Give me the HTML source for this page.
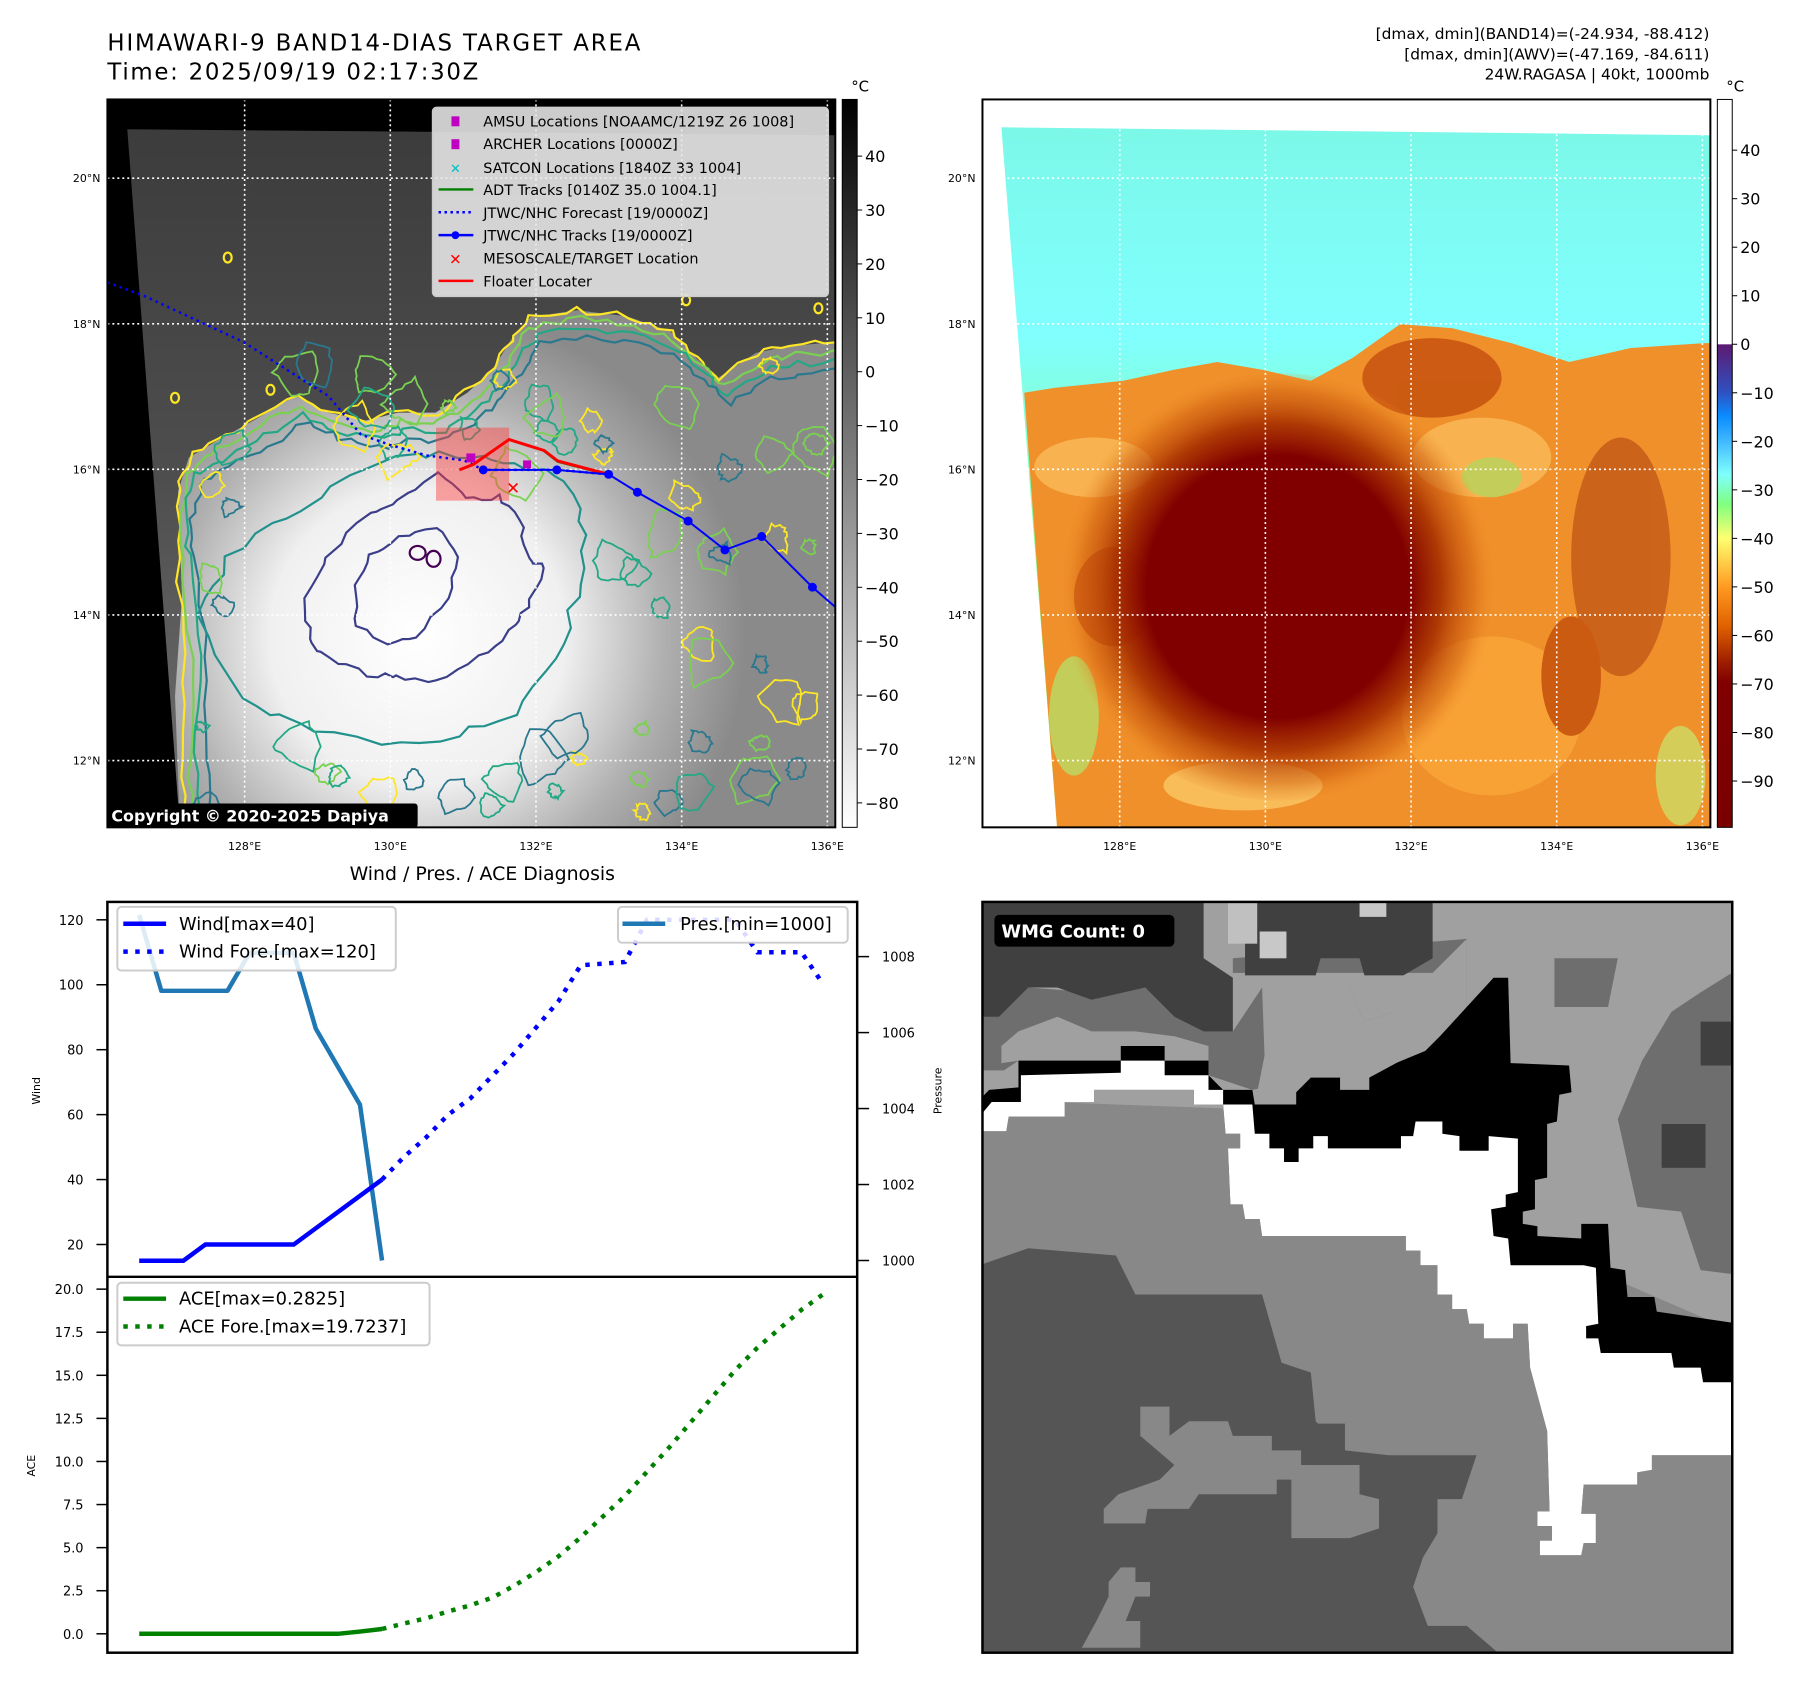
<!DOCTYPE html>
<html><head><meta charset="utf-8"><style>
html,body{margin:0;padding:0;background:#fff}
svg{display:block}
text{font-family:"DejaVu Sans","Liberation Sans",sans-serif}
</style></head><body>
<svg id="root" width="1801" height="1690" viewBox="0 0 1801 1690" xmlns="http://www.w3.org/2000/svg">
<defs>
 <linearGradient id="gcb1" x1="0" y1="0" x2="0" y2="1"><stop offset="0" stop-color="#000"/><stop offset="1" stop-color="#fff"/></linearGradient>
 <linearGradient id="gcb2" x1="0" y1="0" x2="0" y2="1">
  <stop offset="0" stop-color="#fff"/><stop offset="0.336" stop-color="#fff"/><stop offset="0.337" stop-color="#5c1a72"/>
  <stop offset="0.402" stop-color="#3050c0"/><stop offset="0.435" stop-color="#0a8cff"/><stop offset="0.469" stop-color="#40b8ff"/>
  <stop offset="0.515" stop-color="#80ffff"/><stop offset="0.556" stop-color="#80ff80"/><stop offset="0.603" stop-color="#ffff70"/>
  <stop offset="0.67" stop-color="#ff9a20"/><stop offset="0.724" stop-color="#e06000"/><stop offset="0.771" stop-color="#a02000"/>
  <stop offset="0.80" stop-color="#800000"/><stop offset="1" stop-color="#7a0000"/></linearGradient>
 <linearGradient id="gsky1" x1="0" y1="0" x2="0" y2="1"><stop offset="0" stop-color="#3c3c3c"/><stop offset="0.5" stop-color="#4e4e4e"/><stop offset="1" stop-color="#707070"/></linearGradient>
 <radialGradient id="gcore1" cx="420" cy="640" r="330" gradientUnits="userSpaceOnUse"><stop offset="0" stop-color="#ffffff"/><stop offset="0.45" stop-color="#f0f0f0"/><stop offset="0.75" stop-color="#b0b0b0"/><stop offset="1" stop-color="#8a8a8a"/></radialGradient>
 <linearGradient id="gsky2" x1="0" y1="0" x2="0" y2="1"><stop offset="0" stop-color="#7cf8e8"/><stop offset="0.3" stop-color="#80ffff"/><stop offset="0.52" stop-color="#86ffb0"/><stop offset="0.7" stop-color="#90ff80"/><stop offset="1" stop-color="#a0ff80"/></linearGradient>
 <radialGradient id="gcore2" cx="1285" cy="590" r="220" gradientUnits="userSpaceOnUse"><stop offset="0" stop-color="#800000"/><stop offset="0.6" stop-color="#800000"/><stop offset="0.75" stop-color="#a83000" stop-opacity="0.9"/><stop offset="0.9" stop-color="#d06010" stop-opacity="0.5"/><stop offset="1" stop-color="#f0902a" stop-opacity="0"/></radialGradient>
 <clipPath id="clipMap1"><rect x="108" y="100" width="732" height="732"/></clipPath>
 <clipPath id="clipMap2"><rect x="988" y="100" width="732" height="732"/></clipPath>
 <clipPath id="clipTop"><rect x="108" y="907" width="754" height="377"/></clipPath>
 <clipPath id="clipAce"><rect x="108" y="1284" width="754" height="378"/></clipPath>
 <clipPath id="clipWmg"><rect x="988" y="907" width="754" height="755"/></clipPath>
</defs>
<g transform="scale(0.9944)">
<!-- Titles -->
<text x="108" y="51" font-size="23" textLength="536">HIMAWARI-9 BAND14-DIAS TARGET AREA</text>
<text x="108" y="80" font-size="23" textLength="373">Time: 2025/09/19 02:17:30Z</text>
<g font-size="15.5" text-anchor="end">
 <text x="1719" y="39">[dmax, dmin](BAND14)=(-24.934, -88.412)</text>
 <text x="1719" y="60">[dmax, dmin](AWV)=(-47.169, -84.611)</text>
 <text x="1719" y="80">24W.RAGASA | 40kt, 1000mb</text>
</g>

<!-- MAP 1 -->
<g clip-path="url(#clipMap1)">
 <rect x="108" y="100" width="732" height="732" fill="#000"/>
 <polygon points="128,130 840,136 840,832 181,832" fill="url(#gsky1)"/>
 <path id="cloud1" d="M179,494 L190,460 L217,444 L260,420 L297,398 L330,415 L368,423 L400,415 L438,415 L470,395 L495,372 L515,340 L533,319 L580,312 L630,318 L674,333 L700,360 L722,380 L760,355 L793,348 L843,344 L843,832 L181,832 L176,700 L183,600 Z" fill="url(#gcore1)"/>
 <g id="contours1" fill="none" stroke-width="2.2"></g>
 <g stroke="#fff" stroke-width="1.6" stroke-dasharray="2 3" fill="none" id="grid1"></g>
 <rect x="438.5" y="430" width="73.5" height="73.5" fill="rgba(255,60,60,0.45)"/>
 <polyline points="108,284 146,298 245,344 306,383 330,398 363,437 391,447 429,458 467,463 486,472.5 560,472.5 612,477" fill="none" stroke="#0000ff" stroke-width="2.5" stroke-dasharray="2.5 4"/>
 <polyline points="547,453 561,464 608,476" fill="none" stroke="#008000" stroke-width="3"/>
 <polyline points="462,472.5 476,467 512,442 547,453 561,463.6 608,476" fill="none" stroke="#ff0000" stroke-width="3"/>
 <g>
  <polyline points="486,472.5 560,472.5 612,477 641,495 692,524 729,553 766,539.5 817,590.5 843,613" fill="none" stroke="#0000ff" stroke-width="2"/>
  <g fill="#0000ff"><circle cx="486" cy="472.5" r="4.5"/><circle cx="560" cy="472.5" r="4.5"/><circle cx="612" cy="477" r="4.5"/><circle cx="641" cy="495" r="4.5"/><circle cx="692" cy="524" r="4.5"/><circle cx="729" cy="553" r="4.5"/><circle cx="766" cy="539.5" r="4.5"/><circle cx="817" cy="590.5" r="4.5"/></g>
 </g>
 <rect x="469" y="456" width="9" height="9" fill="#c000c0"/>
 <rect x="526" y="463" width="8" height="8" fill="#c000c0"/>
 <text x="516" y="497" font-size="17" font-weight="bold" fill="#ff0000" text-anchor="middle">✕</text>
 <g>
  <rect x="435" y="108" width="398" height="190" rx="4" fill="rgba(232,232,232,0.88)" stroke="#ccc" stroke-width="1.5"/>
  <g font-size="14.5">
   <rect x="454" y="117" width="8" height="10" fill="#c000c0"/><text x="486" y="127">AMSU Locations [NOAAMC/1219Z 26 1008]</text>
   <rect x="454" y="140" width="8" height="10" fill="#c000c0"/><text x="486" y="150">ARCHER Locations [0000Z]</text>
   <text x="458" y="174" fill="#00c0c0" font-size="13" font-weight="bold" text-anchor="middle">✕</text><text x="486" y="174">SATCON Locations [1840Z 33 1004]</text>
   <line x1="441" y1="190.5" x2="476" y2="190.5" stroke="#008000" stroke-width="2.5"/><text x="486" y="196">ADT Tracks [0140Z 35.0 1004.1]</text>
   <line x1="441" y1="213.5" x2="476" y2="213.5" stroke="#0000ff" stroke-width="2.5" stroke-dasharray="2.5 3.5"/><text x="486" y="219">JTWC/NHC Forecast [19/0000Z]</text>
   <line x1="441" y1="236.5" x2="476" y2="236.5" stroke="#0000ff" stroke-width="2.5"/><circle cx="458" cy="236.5" r="4" fill="#0000ff"/><text x="486" y="242">JTWC/NHC Tracks [19/0000Z]</text>
   <text x="458" y="266" fill="#ff0000" font-size="15" font-weight="bold" text-anchor="middle">✕</text><text x="486" y="265">MESOSCALE/TARGET Location</text>
   <line x1="441" y1="282.5" x2="476" y2="282.5" stroke="#ff0000" stroke-width="2.5"/><text x="486" y="288">Floater Locater</text>
  </g>
 </g>
 <rect x="108" y="808" width="312" height="24" rx="3" fill="#000"/>
 <text x="112" y="826" font-size="16" font-weight="bold" fill="#fff">Copyright © 2020-2025 Dapiya</text>
</g>
<rect x="108" y="100" width="732" height="732" fill="none" stroke="#000" stroke-width="2"/>
<g id="labels1" font-size="11"></g>

<rect x="847" y="100" width="15" height="732" fill="url(#gcb1)" stroke="#000" stroke-width="1"/>
<text x="856" y="92" font-size="15">°C</text>
<g id="cb1ticks" font-size="16"></g>

<!-- MAP 2 -->
<g clip-path="url(#clipMap2)">
 <rect x="988" y="100" width="732" height="732" fill="#fff"/>
 <polygon points="1007,128 1720,136 1720,832 1063,832" fill="url(#gsky2)"/>
 <path d="M1030,395 L1060,390 L1129,383 L1180,372 L1224,364 L1270,372 L1318,383 L1360,360 L1408,326 L1460,330 L1520,345 L1578,364 L1640,350 L1714,345 L1720,345 L1720,832 L1063,832 L1045,600 Z" fill="#f0902a"/>
 <g opacity="0.55">
  <ellipse cx="1100" cy="470" rx="60" ry="30" fill="#ffd070"/>
  <ellipse cx="1490" cy="460" rx="70" ry="40" fill="#ffd070"/>
  <ellipse cx="1080" cy="720" rx="25" ry="60" fill="#a0ff80"/>
  <ellipse cx="1250" cy="790" rx="80" ry="25" fill="#ffe080"/>
  <ellipse cx="1630" cy="560" rx="50" ry="120" fill="#b04010"/>
  <ellipse cx="1500" cy="720" rx="90" ry="80" fill="#ffb040"/>
  <ellipse cx="1440" cy="380" rx="70" ry="40" fill="#b03000"/>
  <ellipse cx="1500" cy="480" rx="30" ry="20" fill="#a0ff80"/>
  <ellipse cx="1690" cy="780" rx="25" ry="50" fill="#c0ff80"/>
  <ellipse cx="1120" cy="600" rx="40" ry="50" fill="#b03000"/>
  <ellipse cx="1580" cy="680" rx="30" ry="60" fill="#b03000"/>
 </g>
 <ellipse cx="1285" cy="590" rx="220" ry="215" fill="url(#gcore2)"/>
 <ellipse cx="1282" cy="590" rx="125" ry="118" fill="#800000"/>
 <ellipse cx="1315" cy="495" rx="38" ry="28" fill="#800000"/>
 <g id="grid2" stroke="#fff" stroke-width="1.6" stroke-dasharray="2 3" fill="none"></g>
</g>
<rect x="988" y="100" width="732" height="732" fill="none" stroke="#000" stroke-width="2"/>
<g id="labels2" font-size="11"></g>
<rect x="1727" y="100" width="15" height="732" fill="url(#gcb2)" stroke="#000" stroke-width="1"/>
<text x="1736" y="92" font-size="15">°C</text>
<g id="cb2ticks" font-size="16"></g>

<!-- Wind/Pres/ACE -->
<text x="485" y="885" font-size="19" text-anchor="middle">Wind / Pres. / ACE Diagnosis</text>
<g id="windChart"></g>
<g id="aceChart"></g>
<rect x="108" y="907" width="754" height="755" fill="none" stroke="#000" stroke-width="2.5"/>
<line x1="108" y1="1284" x2="862" y2="1284" stroke="#000" stroke-width="2.5"/>
<text transform="translate(40,1097) rotate(-90)" font-size="11" text-anchor="middle">Wind</text>
<text transform="translate(947,1097) rotate(-90)" font-size="11" text-anchor="middle">Pressure</text>
<text transform="translate(35,1474) rotate(-90)" font-size="11" text-anchor="middle">ACE</text>

<!-- WMG -->
<g clip-path="url(#clipWmg)">
 <rect x="988" y="907" width="754" height="755" fill="#888"/>
 <g transform="translate(985,900) scale(0.49)">
  <polygon fill="#a0a0a0" points="0,0 1560,0 1560,900 1100,700 560,440 0,420"/>
  <polygon fill="#6e6e6e" points="0,240 100,190 230,200 340,190 400,250 520,280 580,190 760,190 790,260 850,240 900,220 940,160 520,160 520,130 1000,90 1000,230 940,290 850,345 740,375 680,375 560,400 470,370 470,340 380,310 290,310 80,340 50,360 0,360"/>
  <polygon fill="#a0a0a0" points="45,310 80,280 160,250 230,280 320,280 400,290 470,310 470,340 380,340 380,310 290,310 290,340 80,340 45,345"/>
  <polygon fill="#a0a0a0" points="580,190 760,190 790,260 850,240 930,160 1000,90 1000,230 945,290 855,345 800,375 740,375 680,375 650,405 565,430 585,330"/>
  <polygon fill="#404040" points="0,0 460,0 460,130 520,170 520,280 460,280 400,250 340,190 230,215 160,190 100,190 40,250 0,250"/>
  <polygon fill="#404040" points="545,10 930,10 930,130 870,165 790,165 780,130 700,130 690,165 545,165"/>
  <rect x="510" y="10" width="60" height="90" fill="#c0c0c0"/><rect x="575" y="75" width="55" height="55" fill="#c8c8c8"/><rect x="780" y="10" width="55" height="35" fill="#c8c8c8"/>
  <polygon fill="#6e6e6e" points="1180,130 1310,130 1290,230 1180,230"/>
  <polygon fill="#6e6e6e" points="1560,150 1480,200 1420,240 1360,340 1310,460 1350,640 1440,650 1480,770 1560,780"/>
  <rect x="1400" y="470" width="90" height="90" fill="#404040"/><rect x="1480" y="260" width="80" height="90" fill="#404040"/>
  <polygon fill="#555" points="0,760 100,725 280,740 320,820 580,820 620,960 680,980 690,1080 750,1140 840,1150 1020,1150 990,1240 940,1240 940,1310 910,1360 890,1420 920,1500 1000,1500 1070,1560 0,1560"/>
  <polygon fill="#888" points="330,1050 390,1050 390,1110 430,1080 510,1080 520,1110 600,1110 600,1140 660,1140 660,1200 610,1200 610,1230 450,1230 430,1260 345,1260 340,1290 255,1290 255,1260 285,1230 370,1200 400,1170 365,1140 330,1110"/>
  <polygon fill="#888" points="640,1170 780,1170 780,1230 820,1240 820,1300 760,1320 640,1320"/>
  <polygon fill="#888" points="290,1380 320,1380 320,1410 350,1410 350,1440 320,1440 300,1490 330,1490 330,1545 210,1545 240,1490 265,1440 265,1410"/>
  <rect x="690" y="1085" width="60" height="85" fill="#555"/>
  <polygon fill="#000" points="0,420 20,400 80,395 80,340 290,340 290,310 380,310 380,340 470,340 470,370 500,400 560,400 565,430 650,430 650,405 680,375 740,375 740,400 800,400 800,375 855,345 915,320 945,290 1000,230 1055,170 1085,170 1090,345 1210,350 1215,405 1190,410 1185,465 1165,470 1165,580 1140,585 1140,645 1115,650 1115,675 1145,680 1145,700 1235,705 1235,675 1290,675 1295,765 1325,770 1330,825 1385,825 1390,855 1560,880 1560,1150 1380,1150 1380,1180 1350,1185 1350,1210 1240,1210 1235,1270 1265,1270 1265,1330 1240,1330 1235,1355 1150,1355 1150,1325 1175,1325 1175,1295 1145,1295 1145,1265 1170,1265 1165,1100 1130,970 1125,880 1095,880 1095,910 1035,910 1035,880 1005,880 1000,850 970,850 970,820 940,820 940,760 905,760 905,730 875,730 875,700 580,700 575,665 545,665 540,635 515,635 510,520 535,520 535,490 505,490 500,430 440,430 440,400 235,400 235,425 175,425 175,455 60,455 55,485 0,485"/>
  <polygon fill="#fff" points="0,455 25,425 85,425 85,370 290,365 290,340 380,340 380,370 470,370 470,400 500,400 500,430 560,430 565,490 595,490 595,520 625,520 625,548 655,548 655,520 685,520 685,495 715,495 715,520 865,520 865,495 890,495 895,465 950,465 950,490 985,495 985,525 1045,525 1045,495 1105,500 1105,610 1080,615 1080,640 1050,645 1055,700 1085,705 1090,760 1240,760 1265,765 1270,880 1245,885 1245,910 1270,910 1275,940 1420,940 1425,970 1480,970 1485,1000 1560,1000 1560,1150 1380,1150 1380,1180 1350,1185 1350,1210 1240,1210 1235,1270 1265,1270 1265,1330 1240,1330 1235,1355 1150,1355 1150,1325 1175,1325 1175,1295 1145,1295 1145,1265 1170,1265 1165,1100 1130,970 1125,880 1095,880 1095,910 1035,910 1035,880 1005,880 1000,850 970,850 970,820 940,820 940,760 905,760 905,730 875,730 875,700 580,700 575,665 545,665 540,635 515,635 510,520 535,520 535,490 505,490 500,430 440,430 440,400 235,400 235,425 175,425 175,455 60,455 55,485 0,485"/>
 </g>
 <rect x="1000" y="920" width="181" height="32" rx="5" fill="#000"/>
 <text x="1007" y="943" font-size="18" font-weight="bold" fill="#fff">WMG Count: 0</text>
</g>
<rect x="988" y="907" width="754" height="755" fill="none" stroke="#000" stroke-width="2.5"/>
</g>
</svg>

<script>
// ---------- chart data ----------
const obsIdx = [0,1,2,3,4,5,6,7,8,9,10,11];
const windObs = [15,15,15,20,20,20,20,20,25,30,35,40];
const presObs = [1009.1,1007.1,1007.1,1007.1,1007.1,1008.1,1008.1,1008.1,1006.1,1005.1,1004.1,1000];
const aceObs = [0,0,0,0,0,0,0,0,0,0,0.13,0.28];
const windFcIdx = [11,12,13,14,15,16,17,18,19,20,22,23,27,28,30,31];
const windFc = [40,47,53,60,65,72,79,87,95,106,107,120,120,110,110,100];
const aceFcIdx = [11,12,13,14,15,16,17,18,19,20,21,22,23,24,25,26,27,28,29,30,31];
const aceFc = [0.28,0.6,0.9,1.3,1.65,2.1,2.8,3.6,4.5,5.6,6.8,8.0,9.4,10.8,12.3,13.8,15.3,16.6,17.7,18.8,19.72];
const windTicks = [20,40,60,80,100,120];
const presTicks = [1000,1002,1004,1006,1008];
const aceTicks = [0,2.5,5,7.5,10,12.5,15,17.5,20];
const cb1Ticks = [40,30,20,10,0,-10,-20,-30,-40,-50,-60,-70,-80];
const cb2Ticks = [40,30,20,10,0,-10,-20,-30,-40,-50,-60,-70,-80,-90];
const lonTicks = [128,130,132,134,136];
const latTicks = [20,18,16,14,12];

const NS = 'http://www.w3.org/2000/svg';
function mk(tag, attrs, parent){const e=document.createElementNS(NS,tag);for(const k in attrs)e.setAttribute(k,attrs[k]);if(parent)parent.appendChild(e);return e;}
const minus = s => String(s).replace('-', '\u2212');

const wx = i => 140 + i*22.2;
const wy = v => 1251.5 - (v-20)*3.265;
const py = p => 1267.6 - (p-1000)*38.2;
const ay = a => 1643 - a*17.33;
const lonX = (lon, off) => 392.5 + (lon-130)*73.25 + off;
const latY = lat => 472 - (lat-16)*73.2;
const cb1Y = v => 157 + (40-v)*5.42;
const cb2Y = v => 151 + (40-v)*4.88;

const wc = document.getElementById('windChart');
const wclip = mk('g',{'clip-path':'url(#clipTop)'},wc);
function pts(xs, ys, fx, fy){return xs.map((x,i)=>fx(x)+','+fy(ys[i])).join(' ');}
let el;
el = mk('polyline',{points:pts(obsIdx,presObs,wx,py),fill:'none',stroke:'#1f77b4','stroke-width':4.5,'stroke-linejoin':'round'},wclip);


el = mk('polyline',{points:pts(obsIdx,windObs,wx,wy),fill:'none',stroke:'#0000ff','stroke-width':4.5},wclip);


el = mk('polyline',{points:pts(windFcIdx,windFc,wx,wy),fill:'none',stroke:'#0000ff','stroke-width':4.5,'stroke-dasharray':'4.5 7.5'},wclip);


windTicks.forEach(v=>{
  mk('line',{x1:97,x2:108,y1:wy(v),y2:wy(v),stroke:'#000','stroke-width':1.5},wc);
  const t = mk('text',{x:84,y:wy(v)+5,'font-size':13,'text-anchor':'end'},wc); t.textContent=v;
  
  
});
presTicks.forEach(v=>{
  mk('line',{x1:862,x2:874,y1:py(v),y2:py(v),stroke:'#000','stroke-width':1.5},wc);
  const t = mk('text',{x:887,y:py(v)+5,'font-size':13},wc); t.textContent=v;
  
  
});
function legendBox(parent,x,y,w,h){mk('rect',{x:x,y:y,width:w,height:h,rx:4,fill:'rgba(255,255,255,0.85)',stroke:'#ccc','stroke-width':2},parent);}
let lg = mk('g',{},wc);


legendBox(lg,118,912,280,64);
mk('line',{x1:124,x2:167,y1:929,y2:929,stroke:'#0000ff','stroke-width':4.5},lg);
mk('line',{x1:124,x2:167,y1:957,y2:957,stroke:'#0000ff','stroke-width':4.5,'stroke-dasharray':'4.5 7.5'},lg);
el=mk('text',{x:180,y:935,'font-size':18},lg); el.textContent='Wind[max=40]';
el=mk('text',{x:180,y:963,'font-size':18},lg); el.textContent='Wind Fore.[max=120]';
lg = mk('g',{},wc);


legendBox(lg,621.5,912,231,36);
mk('line',{x1:626,x2:669,y1:929,y2:929,stroke:'#1f77b4','stroke-width':4.5},lg);
el=mk('text',{x:684,y:935,'font-size':18},lg); el.textContent='Pres.[min=1000]';

const ac = document.getElementById('aceChart');
const aclip = mk('g',{'clip-path':'url(#clipAce)'},ac);
el = mk('polyline',{points:pts(obsIdx,aceObs,wx,ay),fill:'none',stroke:'#008000','stroke-width':4.5},aclip);


el = mk('polyline',{points:pts(aceFcIdx,aceFc,wx,ay),fill:'none',stroke:'#008000','stroke-width':4.5,'stroke-dasharray':'4.5 7.5'},aclip);


aceTicks.forEach(v=>{
  mk('line',{x1:97,x2:108,y1:ay(v),y2:ay(v),stroke:'#000','stroke-width':1.5},ac);
  const t = mk('text',{x:84,y:ay(v)+5,'font-size':13,'text-anchor':'end'},ac); t.textContent=v.toFixed(1);
  
  
});
lg = mk('g',{},ac);


legendBox(lg,118,1290,314,63);
mk('line',{x1:124,x2:167,y1:1306,y2:1306,stroke:'#008000','stroke-width':4.5},lg);
mk('line',{x1:124,x2:167,y1:1334,y2:1334,stroke:'#008000','stroke-width':4.5,'stroke-dasharray':'4.5 7.5'},lg);
el=mk('text',{x:180,y:1312,'font-size':18},lg); el.textContent='ACE[max=0.2825]';
el=mk('text',{x:180,y:1340,'font-size':18},lg); el.textContent='ACE Fore.[max=19.7237]';

function cbTicks(id, ticks, fy, x){
  const g=document.getElementById(id);
  ticks.forEach(v=>{
    mk('line',{x1:x,x2:x+5,y1:fy(v),y2:fy(v),stroke:'#000','stroke-width':1},g);
    const t=mk('text',{x:x+8,y:fy(v)+6},g); t.textContent=minus(v);
    
    
  });
}
cbTicks('cb1ticks',cb1Ticks,cb1Y,862);
cbTicks('cb2ticks',cb2Ticks,cb2Y,1742);

function grid(gid, lid, off){
  const g=document.getElementById(gid), l=document.getElementById(lid);
  lonTicks.forEach(lon=>{
    const x=lonX(lon,off);
    mk('line',{x1:x,x2:x,y1:100,y2:832},g);
    const t=mk('text',{x:x,y:855,'text-anchor':'middle'},l); t.textContent=lon+'°E';
    
    
  });
  latTicks.forEach(lat=>{
    const y=latY(lat);
    mk('line',{x1:108+off,x2:840+off,y1:y,y2:y},g);
    const t=mk('text',{x:101+off,y:y+4,'text-anchor':'end'},l); t.textContent=lat+'°N';
    
    
  });
}
grid('grid1','labels1',0);
grid('grid2','labels2',880);

// ---- decorative contours (imagery texture, not chart data) ----
(function(){
  const g=document.getElementById('contours1');
  let seed=7; const rnd=()=>{seed=(seed*16807)%2147483647;return seed/2147483647;};
  function wob(p, amp, closed){
    let d='';
    const n = closed ? p.length : p.length-1;
    for(let i=0;i<n;i++){
      const a=p[i], b=p[(i+1)%p.length];
      for(let k=0;k<4;k++){
        const t=k/4, x=a[0]+(b[0]-a[0])*t+(rnd()-0.5)*amp, y=a[1]+(b[1]-a[1])*t+(rnd()-0.5)*amp;
        d+=(d?'L':'M')+x.toFixed(1)+','+y.toFixed(1);
      }
    }
    if(!closed){const z=p[p.length-1]; d+='L'+z[0]+','+z[1];}
    return d;
  }
  const top=[[179,494],[190,460],[217,444],[260,420],[297,398],[330,415],[368,423],[400,415],[438,415],[470,395],[495,372],[515,340],[533,319],[580,312],[630,318],[674,333],[700,360],[722,380],[760,355],[793,348],[843,344]];
  const cols=['#fde725','#7ad151','#22a884','#2a788e'];
  cols.forEach((c,i)=>{
    const p=top.map(q=>[q[0]+i*4,q[1]+i*9]);
    const left=[[178+i*6,560],[185+i*8,660],[182+i*8,760],[188+i*8,840]];
    const all=left.slice().reverse().concat(p);
    mk('path',{d:wob(all,7,false),stroke:c},g);
  });
  const teal=[[200,620],[230,560],[290,520],[350,480],[420,455],[470,460],[520,470],[570,480],[590,540],[580,600],[560,660],[520,720],[460,740],[380,750],[300,730],[240,700]];
  mk('path',{d:wob(teal,9,true)+'Z',stroke:'#21918c'},g);
  const navy=[[306,601],[330,560],[372,515],[400,505],[438,478],[470,500],[500,500],[523,522],[530,560],[547,572],[530,610],[514,636],[480,660],[438,686],[400,680],[372,679],[330,660],[311,644]];
  mk('path',{d:wob(navy,6,true)+'Z',stroke:'#3b3f8a'},g);
  const inner=[[372,560],[400,540],[440,530],[460,560],[450,600],[420,640],[390,650],[360,630],[355,590]];
  mk('path',{d:wob(inner,5,true)+'Z',stroke:'#3b3f8a'},g);
  mk('ellipse',{cx:420,cy:556,rx:8,ry:7,stroke:'#440154'},g);
  mk('ellipse',{cx:436,cy:562,rx:7,ry:8,stroke:'#440154'},g);
  for(let n=0;n<90;n++){
    const x=190+rnd()*640, y=360+rnd()*460;
    const dx=x-420, dy=y-620;
    if(dx*dx/(190*190) + dy*dy/(150*150) < 1) continue;
    const c=cols[Math.floor(rnd()*4)], r=6+rnd()*18;
    const pp=[]; for(let k=0;k<6;k++){const a=k/6*Math.PI*2; pp.push([x+Math.cos(a)*r*(0.7+rnd()*0.6), y+Math.sin(a)*r*(0.6+rnd()*0.8)]);}
    mk('path',{d:wob(pp,3,true)+'Z',stroke:c,'stroke-width':1.8},g);
  }
  [[229,259],[176,400],[272,392],[690,302],[823,310]].forEach(q=>mk('ellipse',{cx:q[0],cy:q[1],rx:4,ry:5,stroke:'#fde725'},g));
})();
</script>
</body></html>
